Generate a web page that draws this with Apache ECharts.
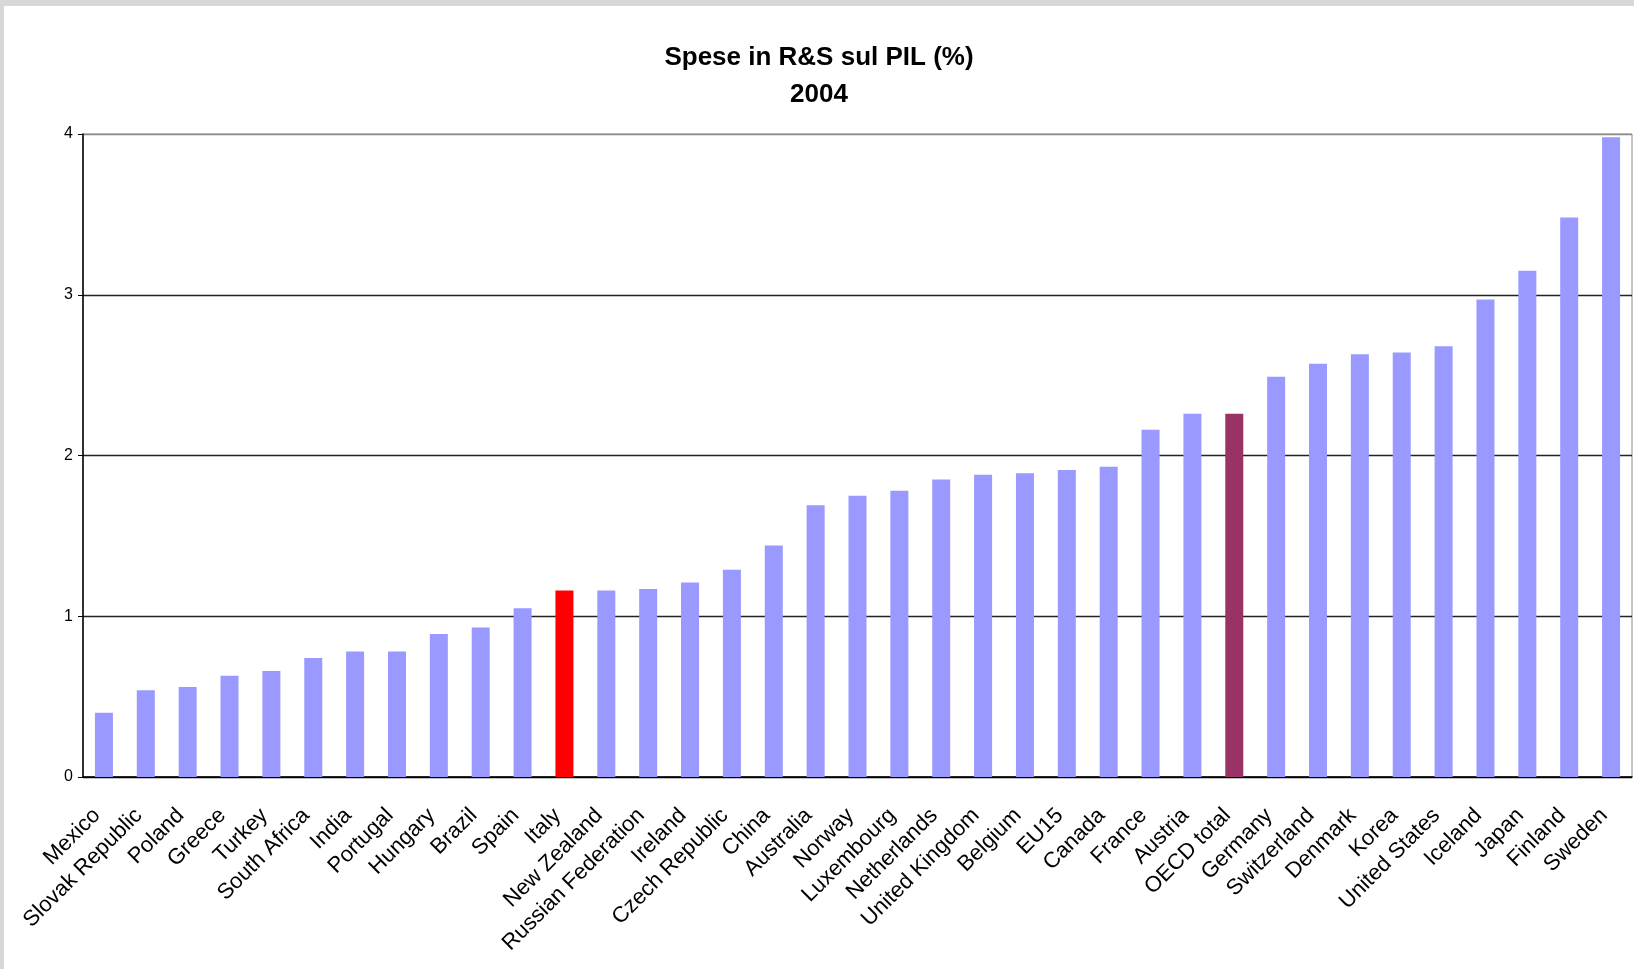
<!DOCTYPE html>
<html>
<head>
<meta charset="utf-8">
<script src="https://cdn.jsdelivr.net/npm/echarts@6/dist/echarts.min.js"></script>
<style>
  html, body { margin: 0; padding: 0; background: #d9d7d6; }
  #chart { position: absolute; left: 4px; top: 6px; width: 1630px; height: 963px; background: #fff; }
</style>
</head>
<body>
<div id="chart"></div>
<script>
const categories = ['Mexico', 'Slovak Republic', 'Poland', 'Greece', 'Turkey', 'South Africa', 'India', 'Portugal',
  'Hungary', 'Brazil', 'Spain', 'Italy', 'New Zealand', 'Russian Federation', 'Ireland', 'Czech Republic', 'China',
  'Australia', 'Norway', 'Luxembourg', 'Netherlands', 'United Kingdom', 'Belgium', 'EU15', 'Canada', 'France',
  'Austria', 'OECD total', 'Germany', 'Switzerland', 'Denmark', 'Korea', 'United States', 'Iceland', 'Japan',
  'Finland', 'Sweden']
const values = [0.40, 0.54, 0.56, 0.63, 0.66, 0.74, 0.78, 0.78,
  0.89, 0.93, 1.05, 1.16, 1.16, 1.17, 1.21, 1.29, 1.44,
  1.69, 1.75, 1.78, 1.85, 1.88, 1.89, 1.91, 1.93, 2.16,
  2.26, 2.26, 2.49, 2.57, 2.63, 2.64, 2.68, 2.97, 3.15,
  3.48, 3.98]
const highlight = { 'Italy': '#ff0000', 'OECD total': '#993366' }
const yTicks = [0, 1, 2, 3, 4]

const chart = echarts.init(document.getElementById('chart'))

const option = {
  animation: false,
  title: {
    text: 'Spese in R&S sul PIL (%)\n2004',
    left: 'center',
    top: 28,
    textStyle: {
      fontFamily: "'Liberation Sans', Arial, sans-serif",
      fontWeight: 'bold',
      fontSize: 26,
      lineHeight: 37,
      color: '#000'
    }
  },
  grid: {
    left: 79,
    right: 2,
    top: 128,
    bottom: 192,
    show: true,
    borderColor: '#8c8c8c',
    borderWidth: 1
  },
  xAxis: {
    type: 'category',
    data: categories,
    axisLine: { lineStyle: { color: '#000', width: 1.5 } },
    axisTick: { alignWithLabel: false, length: 7, lineStyle: { color: '#000' } },
    axisLabel: {
      rotate: 45,
      interval: 0,
      margin: 28,
      padding: [0, 10, 0, 0],
      fontSize: 22,
      fontFamily: "'Liberation Sans', Arial, sans-serif",
      color: '#000'
    }
  },
  yAxis: {
    type: 'value',
    min: yTicks[0],
    max: yTicks[yTicks.length - 1],
    interval: 1,
    axisLine: { show: true, lineStyle: { color: '#000', width: 1.5 } },
    axisTick: { show: true, length: 5, lineStyle: { color: '#000' } },
    axisLabel: {
      margin: 10,
      fontSize: 16,
      fontFamily: "'Liberation Sans', Arial, sans-serif",
      color: '#000'
    },
    splitLine: {
      lineStyle: { color: ['#000', '#222', '#222', '#222', '#8c8c8c'], width: 1.4 }
    }
  },
  series: [{
    type: 'bar',
    barWidth: 18,
    data: values.map((v, i) => ({
      value: v,
      itemStyle: { color: highlight[categories[i]] || '#9999ff' }
    }))
  }]
}

chart.setOption(option)
</script>
</body>
</html>
